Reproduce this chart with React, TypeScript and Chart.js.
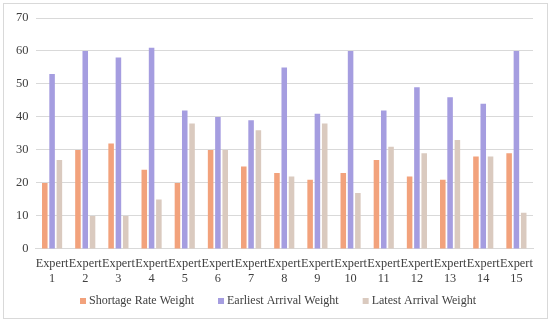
import React, { useEffect, useRef } from "react";
import { Chart, registerables } from "chart.js";

Chart.register(...registerables);

const categories = Array.from({ length: 15 }, (_, i) => ["Expert", String(i + 1)]);
const shortageRate = [20, 30, 32, 24, 20, 30, 25, 23, 21, 23, 27, 22, 21, 28, 29];
const earliestArrival = [53, 60, 58, 61, 42, 40, 39, 55, 41, 60, 42, 49, 46, 44, 60];
const latestArrival = [27, 10, 10, 15, 38, 30, 36, 22, 38, 17, 31, 29, 33, 28, 11];
const yTicks = [0, 10, 20, 30, 40, 50, 60, 70];

const FONT = "'Liberation Serif', 'Times New Roman', serif";
const TEXT = "#404040";

const bottomLegend = {
  id: "bottomLegend",
  afterDraw(chart: any) {
    const ctx = chart.ctx as CanvasRenderingContext2D;
    ctx.save();
    ctx.font = `12px ${FONT}`;
    ctx.textBaseline = "middle";
    ctx.textAlign = "left";
    const box = 6;
    const gapText = 3;
    const gapItem = 24;
    const items = chart.data.datasets.map((d: any) => ({
      label: d.label as string,
      color: d.backgroundColor as string,
      w: ctx.measureText(d.label).width,
    }));
    const total =
      items.reduce((s: number, it: any) => s + box + gapText + it.w, 0) + gapItem * (items.length - 1);
    let x = 278 - total / 2;
    const y = 301;
    for (const it of items) {
      ctx.fillStyle = it.color;
      ctx.fillRect(x, y - box / 2, box, box);
      x += box + gapText;
      ctx.fillStyle = TEXT;
      ctx.fillText(it.label, x, y);
      x += it.w + gapItem;
    }
    ctx.restore();
  },
};

export default function App() {
  const ref = useRef<HTMLCanvasElement | null>(null);
  useEffect(() => {
    document.body.style.margin = "0";
    const ctx = ref.current!.getContext("2d")!;
    const chart = new Chart(ctx, {
      type: "bar",
      data: {
        labels: categories,
        datasets: [
          { label: "Shortage Rate Weight", data: shortageRate, backgroundColor: "#F2A27C" },
          { label: "Earliest Arrival Weight", data: earliestArrival, backgroundColor: "#A59DE0" },
          { label: "Latest Arrival Weight", data: latestArrival, backgroundColor: "#DACABF" },
        ],
      },
      plugins: [bottomLegend],
      options: {
        responsive: false,
        animation: false,
        layout: { padding: { left: 9, right: 17, top: 18, bottom: 31 } },
        datasets: { bar: { categoryPercentage: 0.66, barPercentage: 0.76 } },
        scales: {
          x: {
            grid: { display: false, drawTicks: false },
            border: { display: true, color: "#d9d9d9" },
            ticks: {
              color: TEXT,
              font: { family: FONT, size: 12.3, lineHeight: 1.22 },
              maxRotation: 0,
              autoSkip: false,
              padding: 7,
            },
          },
          y: {
            min: 0,
            max: 70,
            afterBuildTicks: (axis: any) => {
              axis.ticks = yTicks.map((v) => ({ value: v }));
            },
            grid: { color: "#d9d9d9", drawTicks: false },
            border: { display: false },
            ticks: { color: TEXT, font: { family: FONT, size: 12.5 }, padding: 7 },
          },
        },
        plugins: {
          legend: { display: false },
          tooltip: { enabled: false },
        },
      },
    });
    return () => chart.destroy();
  }, []);
  return (
    <div style={{ position: "relative", width: 550, height: 324, background: "#fff" }}>
      <canvas ref={ref} width={550} height={324} style={{ position: "absolute", left: 0, top: 0 }} />
      <div
        style={{
          position: "absolute",
          left: 3,
          top: 3,
          width: 543,
          height: 314,
          border: "1px solid #d9d9d9",
          pointerEvents: "none",
        }}
      />
    </div>
  );
}
